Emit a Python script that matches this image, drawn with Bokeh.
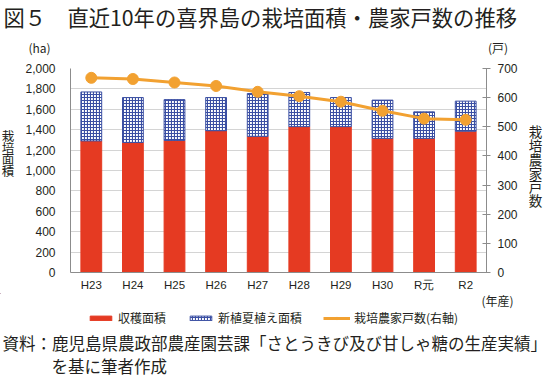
from bokeh.plotting import figure
from bokeh.layouts import column, row
from bokeh.models import (ColumnDataSource, FactorRange, Range1d, LinearAxis, FixedTicker,
                          NumeralTickFormatter, Label, Legend, LegendItem)
from bokeh.embed import file_html
from bokeh.resources import INLINE

# ---- data ----
categories = ["H23", "H24", "H25", "H26", "H27", "H28", "H29", "H30", "R元", "R2"]
harvest_area = [1290, 1275, 1295, 1390, 1335, 1430, 1430, 1315, 1315, 1385]
new_plant_area = [480, 440, 400, 325, 420, 335, 285, 375, 260, 295]
farm_households = [668, 664, 652, 640, 620, 605, 586, 555, 528, 524]
left_ticks = [0, 200, 400, 600, 800, 1000, 1200, 1400, 1600, 1800, 2000]
right_ticks = [0, 100, 200, 300, 400, 500, 600, 700]

RED = "#E53A22"
BLUE = "#3B4FA3"
ORANGE = "#F2A131"
GRID = "#d4d4d4"
AXIS = "#8c8c8c"
TXT = "#231f20"
JP = "Noto Sans CJK JP"
NUM = "Liberation Sans"

# page layout (pixels)
W, H = 547, 377
FRAME_L, FRAME_R, FRAME_T, FRAME_B = 70, 486, 68, 274
TOP_H = 56
MID_END = 293
MID_H = MID_END - TOP_H
BOT_H = H - MID_END
LEFT_W = 16
RIGHT_X = 522
RIGHT_W = W - RIGHT_X
MAIN_W = RIGHT_X - LEFT_W


def text_fig(w, h):
    f = figure(width=w, height=h, x_range=Range1d(0, w), y_range=Range1d(h, 0),
               output_backend="svg", toolbar_location=None, min_border=0,
               x_axis_type=None, y_axis_type=None)
    f.outline_line_color = None
    f.background_fill_color = "white"
    f.border_fill_color = "white"
    return f


def lab(f, x, y, text, size, align="left", font=JP):
    f.add_layout(Label(x=x, y=y, text=text, text_font=font, text_font_size=size,
                       text_align=align, text_baseline="middle", text_color=TXT))


# ---- main chart ----
src = ColumnDataSource(dict(cat=categories, harvest=harvest_area,
                            new_plant=new_plant_area, farmers=farm_households))

p = figure(x_range=FactorRange(*categories), y_range=Range1d(0, 2000),
           width=MAIN_W, height=MID_H, output_backend="svg", toolbar_location=None,
           min_border_left=FRAME_L - LEFT_W, min_border_right=RIGHT_X - FRAME_R,
           min_border_top=FRAME_T - TOP_H, min_border_bottom=MID_END - FRAME_B)
p.extra_y_ranges = {"right": Range1d(0, 700)}
p.outline_line_color = None
p.background_fill_color = "white"
p.border_fill_color = "white"

ya = p.yaxis[0]
ya.ticker = FixedTicker(ticks=left_ticks)
ya.formatter = NumeralTickFormatter(format="0,0")
ya.major_tick_in = 0
ya.major_tick_out = 0
ya.minor_tick_line_color = None
ya.axis_line_color = AXIS
ya.major_label_standoff = 15
ya.major_label_text_font = NUM
ya.major_label_text_font_size = "12px"
ya.major_label_text_color = TXT

ra = LinearAxis(y_range_name="right", ticker=FixedTicker(ticks=right_ticks))
ra.major_tick_in = 4
ra.major_tick_out = 4
ra.major_tick_line_color = AXIS
ra.minor_tick_line_color = None
ra.axis_line_color = AXIS
ra.major_label_standoff = 7
ra.major_label_text_font = NUM
ra.major_label_text_font_size = "12px"
ra.major_label_text_color = TXT
p.add_layout(ra, "right")

xa = p.xaxis[0]
xa.major_tick_in = 0
xa.major_tick_out = 0
xa.minor_tick_line_color = None
xa.axis_line_color = AXIS
xa.major_label_standoff = 6
xa.major_label_text_font = NUM
xa.major_label_text_font_size = "11.5px"
xa.major_label_text_color = TXT

p.xgrid.grid_line_color = None
p.ygrid.grid_line_color = GRID
p.ygrid.ticker = FixedTicker(ticks=left_ticks)

bars = p.vbar_stack(["harvest", "new_plant"], x="cat", width=0.5, source=src,
                    fill_color=[RED, "white"], line_color=[RED, BLUE], line_width=1,
                    hatch_pattern=[" ", "+"], hatch_color=[RED, BLUE],
                    hatch_scale=3.0, hatch_weight=1.2)

ln = p.line("cat", "farmers", source=src, y_range_name="right", line_color=ORANGE, line_width=3)
sc = p.scatter("cat", "farmers", source=src, y_range_name="right", size=11,
               fill_color=ORANGE, line_color=ORANGE)

# ---- text panels ----
top = text_fig(W, TOP_H)
lab(top, 3, 15.5, "図５　直近10年の喜界島の栽培面積・農家戸数の推移", "21.3px")
lab(top, 39, 47, "(ha)", "12px", align="center")
lab(top, 497.5, 47, "(戸)", "12px", align="center")

left = text_fig(LEFT_W, MID_H)
for i, ch in enumerate("栽培面積"):
    lab(left, 7.5, 134 - TOP_H + i * 13.4, ch, "12.5px", align="center")

right = text_fig(RIGHT_W, MID_H)
for i, ch in enumerate("栽培農家戸数"):
    lab(right, 535 - RIGHT_X, 129 - TOP_H + i * 16, ch, "13.5px", align="center")

bottom = text_fig(W, BOT_H)
lab(bottom, 497, 6.5, "(年産)", "12px", align="center")

# legend swatches: off-canvas carriers that only hold the legend styles
sw_bar = ColumnDataSource(dict(x=[-100], top=[0]))
sw_line = ColumnDataSource(dict(x=[-100, -90], y=[-100, -100]))
lg1 = bottom.vbar(x="x", top="top", width=1, source=sw_bar, fill_color=RED, line_color=RED)
lg2 = bottom.vbar(x="x", top="top", width=1, source=sw_bar, fill_color="white",
                  line_color=BLUE, hatch_pattern="+", hatch_color=BLUE,
                  hatch_scale=3.0, hatch_weight=1.2)
lg3 = bottom.line(x="x", y="y", source=sw_line, line_color=ORANGE, line_width=3)
lg4 = bottom.scatter(x="x", y="y", source=sw_line, size=9, fill_color=ORANGE,
                     line_color=ORANGE)
legend = Legend(items=[LegendItem(label="収穫面積", renderers=[lg1]),
                       LegendItem(label="新植夏植え面積", renderers=[lg2]),
                       LegendItem(label="栽培農家戸数(右軸)", renderers=[lg3, lg4])],
                orientation="horizontal", location=(87, BOT_H - 33),
                glyph_width=27, glyph_height=6, label_height=12, label_standoff=4,
                spacing=21, padding=0, margin=0,
                border_line_color=None, background_fill_alpha=0,
                label_text_font=JP, label_text_font_size="12px", label_text_color=TXT)
bottom.add_layout(legend)

lab(bottom, 2, 342 - MID_END, "資料：鹿児島県農政部農産園芸課「さとうきび及び甘しゃ糖の生産実績」", "16.5px")
lab(bottom, 51, 365 - MID_END, "を基に筆者作成", "16.5px")

layout = column(top, row(left, p, right, spacing=0), bottom, spacing=0)

open("out.html", "w").write(file_html(layout, INLINE))
